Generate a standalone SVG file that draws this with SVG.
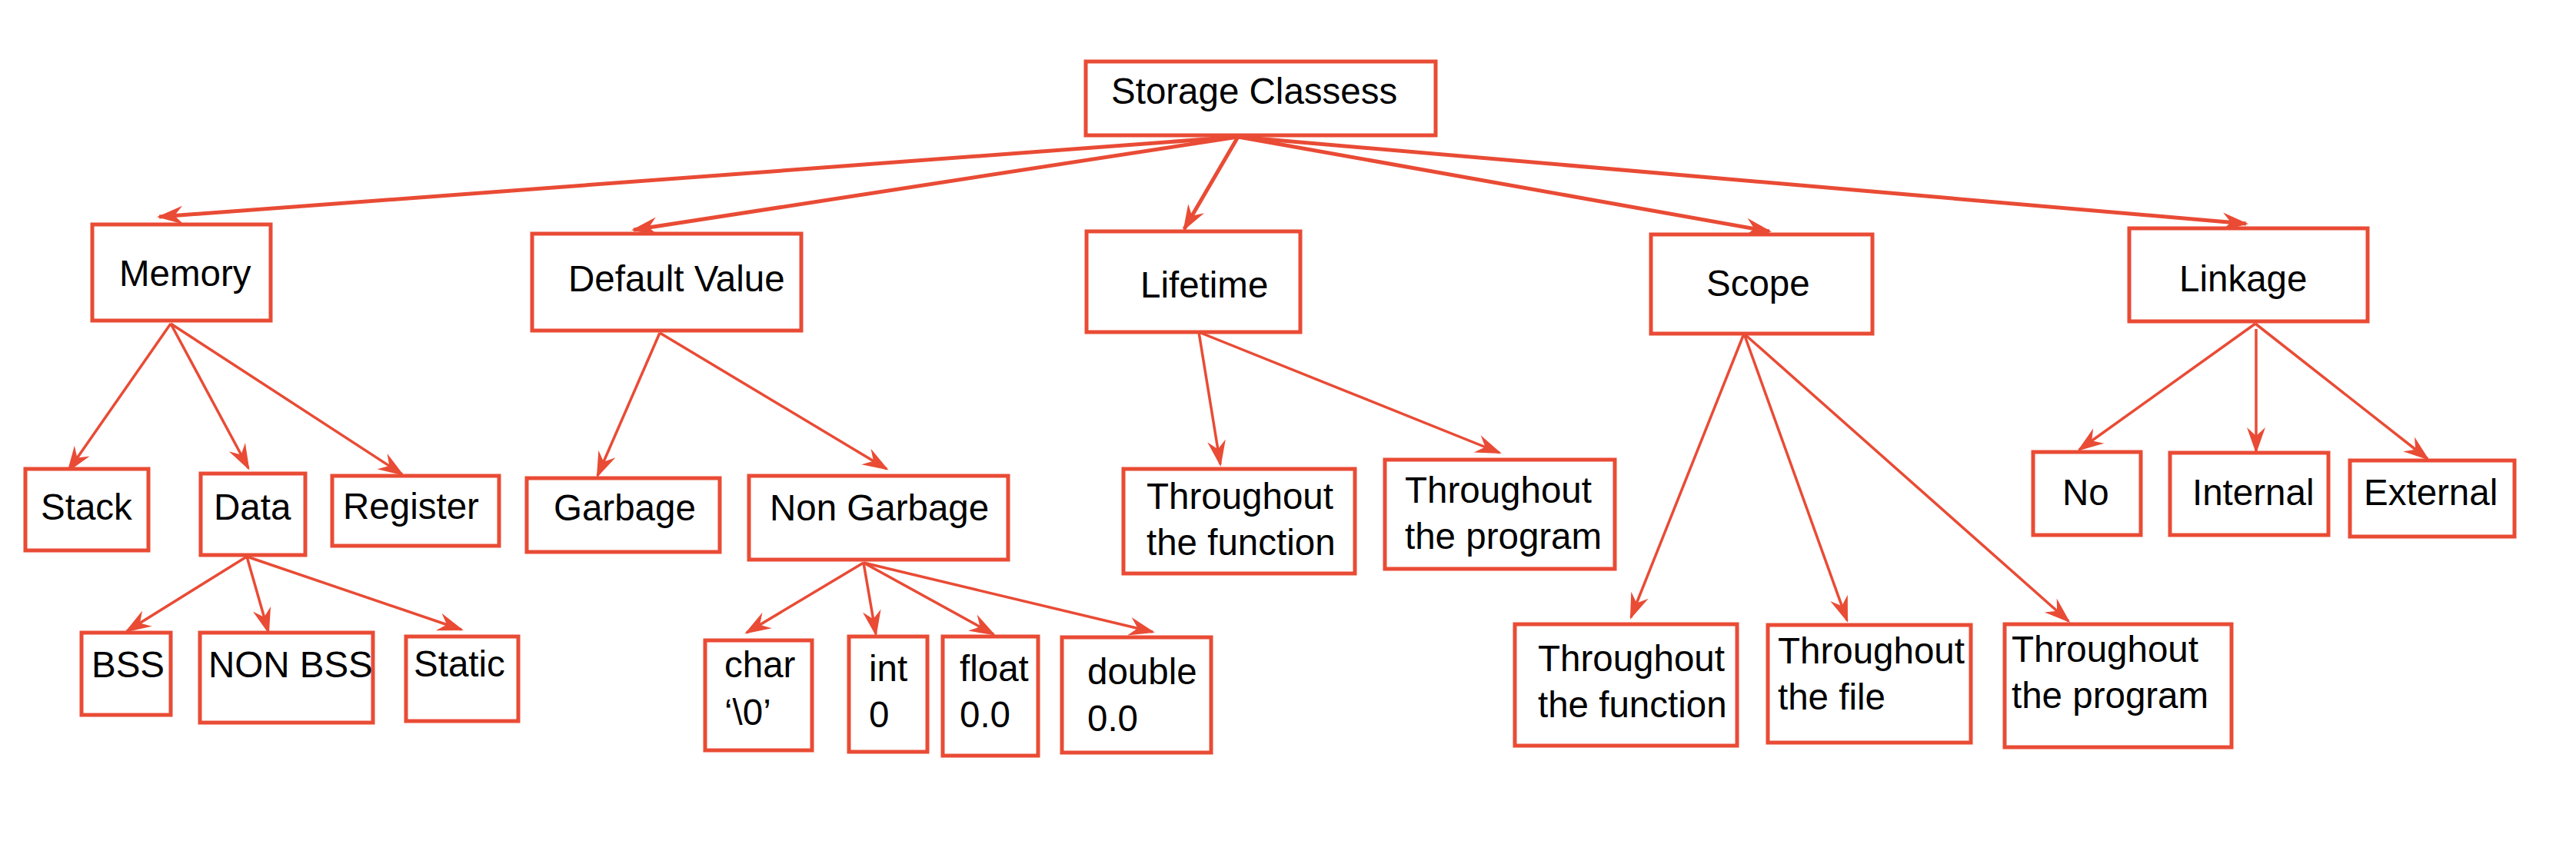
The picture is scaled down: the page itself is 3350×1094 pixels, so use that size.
<svg xmlns="http://www.w3.org/2000/svg" width="3350" height="1094" viewBox="0 0 3350 1094">
<style>
.box{fill:#fff;stroke:#E94B35;stroke-width:5}
.lbl{font-family:"Liberation Sans",Arial,Helvetica,sans-serif;font-size:47.5px;fill:#000}
.c{fill:none;stroke:#E94B35;stroke-linecap:butt}
.t{stroke-width:5}
.s{stroke-width:3.5}
</style>
<defs>
<marker id="ah" viewBox="-38 -14 42 28" refX="-3" refY="0" markerWidth="42" markerHeight="28" markerUnits="userSpaceOnUse" orient="auto">
<path d="M0,0 L-34,-12 L-23,0 L-34,12 Z" fill="#E94B35"/>
</marker>
</defs>
<rect width="3350" height="1094" fill="#fff"/>
<g id="connectors">
<line class="c t" x1="1610" y1="178" x2="207" y2="282" marker-end="url(#ah)"/>
<line class="c t" x1="1610" y1="178" x2="824" y2="299" marker-end="url(#ah)"/>
<line class="c t" x1="1610" y1="178" x2="1540" y2="298" marker-end="url(#ah)"/>
<line class="c t" x1="1610" y1="178" x2="2301" y2="301" marker-end="url(#ah)"/>
<line class="c t" x1="1610" y1="178" x2="2921" y2="291" marker-end="url(#ah)"/>
<line class="c s" x1="222" y1="421" x2="89" y2="612" marker-end="url(#ah)"/>
<line class="c s" x1="222" y1="421" x2="323" y2="609" marker-end="url(#ah)"/>
<line class="c s" x1="222" y1="421" x2="523" y2="617" marker-end="url(#ah)"/>
<line class="c s" x1="858" y1="433" x2="777" y2="619" marker-end="url(#ah)"/>
<line class="c s" x1="858" y1="433" x2="1153" y2="610" marker-end="url(#ah)"/>
<line class="c s" x1="321" y1="724" x2="165" y2="821" marker-end="url(#ah)"/>
<line class="c s" x1="321" y1="724" x2="349" y2="822" marker-end="url(#ah)"/>
<line class="c s" x1="321" y1="724" x2="600" y2="819" marker-end="url(#ah)"/>
<line class="c s" x1="1123" y1="732" x2="971" y2="823" marker-end="url(#ah)"/>
<line class="c s" x1="1123" y1="732" x2="1139" y2="825" marker-end="url(#ah)"/>
<line class="c s" x1="1123" y1="732" x2="1292" y2="825" marker-end="url(#ah)"/>
<line class="c s" x1="1123" y1="732" x2="1499" y2="822" marker-end="url(#ah)"/>
<line class="c s" x1="1559" y1="432" x2="1587" y2="604" marker-end="url(#ah)"/>
<line class="c s" x1="1559" y1="432" x2="1950" y2="589" marker-end="url(#ah)"/>
<line class="c s" x1="2268" y1="434" x2="2121" y2="803" marker-end="url(#ah)"/>
<line class="c s" x1="2268" y1="434" x2="2402" y2="807" marker-end="url(#ah)"/>
<line class="c s" x1="2268" y1="434" x2="2690" y2="808" marker-end="url(#ah)"/>
<line class="c s" x1="2933" y1="421" x2="2704" y2="585" marker-end="url(#ah)"/>
<line class="c s" x1="2934" y1="428" x2="2934" y2="587" marker-end="url(#ah)"/>
<line class="c s" x1="2933" y1="421" x2="3157" y2="597" marker-end="url(#ah)"/>
</g>
<g id="storage"><rect class="box" x="1412" y="80" width="455" height="96"/><text class="lbl" x="1445" y="135">Storage Classess</text></g>
<g id="memory"><rect class="box" x="120" y="292" width="232" height="125"/><text class="lbl" x="155" y="372">Memory</text></g>
<g id="default"><rect class="box" x="692" y="304" width="350" height="126"/><text class="lbl" x="739" y="379">Default Value</text></g>
<g id="lifetime"><rect class="box" x="1413" y="301" width="278" height="131"/><text class="lbl" x="1483" y="387">Lifetime</text></g>
<g id="scope"><rect class="box" x="2147" y="305" width="288" height="129"/><text class="lbl" x="2219" y="385">Scope</text></g>
<g id="linkage"><rect class="box" x="2769" y="297" width="310" height="121"/><text class="lbl" x="2834" y="379">Linkage</text></g>
<g id="stack"><rect class="box" x="33" y="610" width="160" height="106"/><text class="lbl" x="53" y="676">Stack</text></g>
<g id="data"><rect class="box" x="261" y="616" width="136" height="106"/><text class="lbl" x="278" y="676">Data</text></g>
<g id="register"><rect class="box" x="432" y="619" width="217" height="91"/><text class="lbl" x="446" y="675">Register</text></g>
<g id="garbage"><rect class="box" x="685" y="622" width="251" height="96"/><text class="lbl" x="720" y="677">Garbage</text></g>
<g id="nongarbage"><rect class="box" x="974" y="619" width="337" height="109"/><text class="lbl" x="1001" y="677">Non Garbage</text></g>
<g id="bss"><rect class="box" x="106" y="823" width="116" height="107"/><text class="lbl" x="119" y="881">BSS</text></g>
<g id="nonbss"><rect class="box" x="260" y="823" width="225" height="117"/><text class="lbl" x="271" y="881">NON BSS</text></g>
<g id="static"><rect class="box" x="528" y="828" width="146" height="110"/><text class="lbl" x="538" y="880">Static</text></g>
<g id="char"><rect class="box" x="917" y="833" width="139" height="143"/><text class="lbl" x="942" y="881">char</text><text class="lbl" x="942" y="943">‘\0’</text></g>
<g id="int"><rect class="box" x="1104" y="828" width="102" height="150"/><text class="lbl" x="1130" y="886">int</text><text class="lbl" x="1130" y="946">0</text></g>
<g id="float"><rect class="box" x="1226" y="828" width="124" height="155"/><text class="lbl" x="1248" y="886">float</text><text class="lbl" x="1248" y="946">0.0</text></g>
<g id="double"><rect class="box" x="1381" y="829" width="194" height="150"/><text class="lbl" x="1414" y="890">double</text><text class="lbl" x="1414" y="951">0.0</text></g>
<g id="lt-function"><rect class="box" x="1461" y="610" width="301" height="136"/><text class="lbl" x="1491" y="662">Throughout</text><text class="lbl" x="1491" y="722">the function</text></g>
<g id="lt-program"><rect class="box" x="1801" y="598" width="299" height="142"/><text class="lbl" x="1827" y="654">Throughout</text><text class="lbl" x="1827" y="714">the program</text></g>
<g id="sc-function"><rect class="box" x="1970" y="812" width="289" height="158"/><text class="lbl" x="2000" y="873">Throughout</text><text class="lbl" x="2000" y="933">the function</text></g>
<g id="sc-file"><rect class="box" x="2299" y="813" width="264" height="153"/><text class="lbl" x="2312" y="863">Throughout</text><text class="lbl" x="2312" y="923">the file</text></g>
<g id="sc-program"><rect class="box" x="2607" y="812" width="295" height="160"/><text class="lbl" x="2616" y="861">Throughout</text><text class="lbl" x="2616" y="921">the program</text></g>
<g id="no"><rect class="box" x="2644" y="588" width="140" height="108"/><text class="lbl" x="2682" y="657">No</text></g>
<g id="internal"><rect class="box" x="2822" y="589" width="206" height="107"/><text class="lbl" x="2851" y="657">Internal</text></g>
<g id="external"><rect class="box" x="3056" y="599" width="214" height="99"/><text class="lbl" x="3074" y="657">External</text></g>
</svg>
